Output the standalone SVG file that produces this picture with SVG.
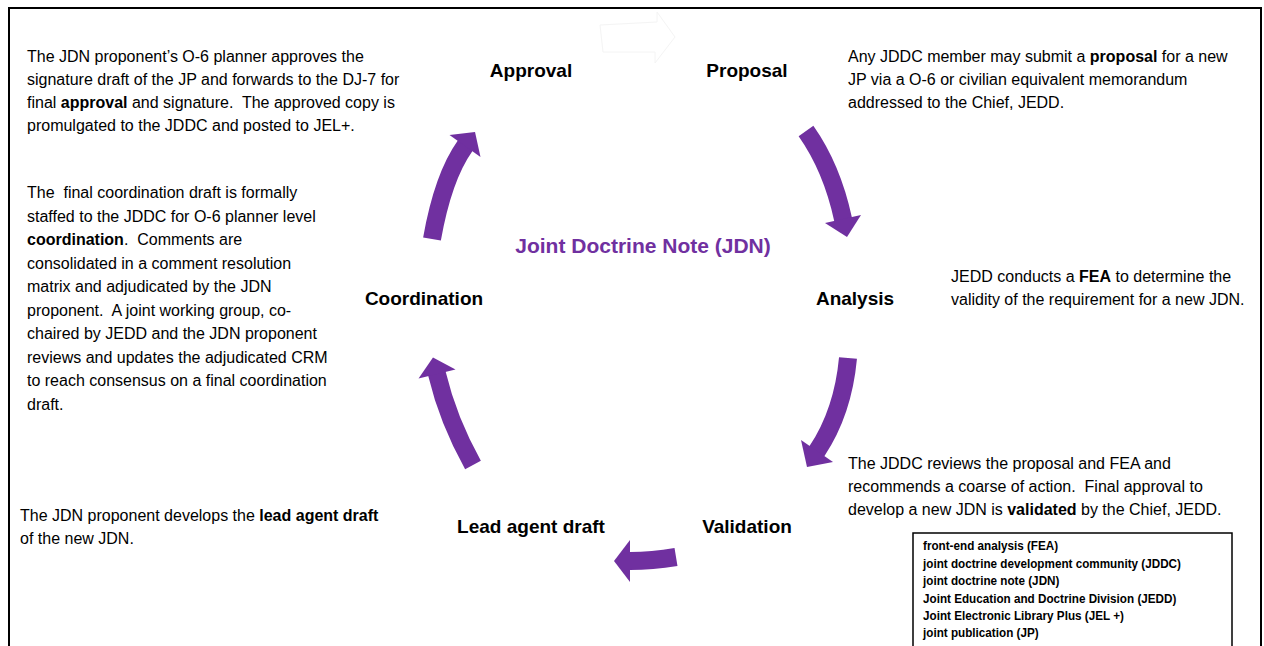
<svg xmlns="http://www.w3.org/2000/svg" width="1264" height="646" viewBox="0 0 1264 646">
  <style>
    .body { font-family: "Liberation Sans", Arial, sans-serif; font-size: 16px; fill: #000; }
    .lbl { font-family: "Liberation Sans", Arial, sans-serif; font-size: 19px; font-weight: bold; fill: #000; text-anchor: middle; }
    .ttl { font-family: "Liberation Sans", Arial, sans-serif; font-size: 21px; font-weight: bold; fill: #7030A0; text-anchor: middle; }
    .leg { font-family: "Liberation Sans", Arial, sans-serif; font-size: 13px; font-weight: bold; fill: #000; }
    .b { font-weight: bold; }
    .shaft { fill: none; stroke: #7030A0; stroke-width: 18; }
    .head { fill: #7030A0; }
  </style>

  <rect x="0" y="0" width="1264" height="646" fill="#fff"/>
  <!-- outer frame -->
  <path d="M9,646 V8 H1261 V646" fill="none" stroke="#000" stroke-width="2"/>

  <!-- faint outlined arrow at top -->
  <path d="M600,25 L657,22 L657,12 L675,37 L655,63 L655,52 L603,52 Z" fill="none" stroke="#f4f4f4" stroke-width="1"/>

  <!-- cycle connectors: shaft stroke + head triangle -->
  <g id="connectors">
    <g id="arrow-proposal-analysis">
      <path class="shaft" d="M806,131 Q832,168 843,219 l0.4,2"/>
      <polygon class="head" points="861,215 825,223 847,237"/>
    </g>
    <g id="arrow-analysis-validation">
      <path class="shaft" d="M848,358 Q843,412 817,451 l-1.1,1.7"/>
      <polygon class="head" points="833,462 801,440 807,467"/>
    </g>
    <g id="arrow-validation-lead">
      <path class="shaft" d="M676,557 Q652,561 630,561 l-2,0"/>
      <polygon class="head" points="630,540 630,582 614,561"/>
    </g>
    <g id="arrow-lead-coordination">
      <path class="shaft" d="M473,465 Q448,420 437,374 l-0.5,-2"/>
      <polygon class="head" points="455.5,369.6 418.5,378.4 433,357.5"/>
    </g>
    <g id="arrow-coordination-approval">
      <path class="shaft" d="M432,239 Q443,177 465,146 l1.2,-1.6"/>
      <polygon class="head" points="480.5,157 449.5,135 475,132"/>
    </g>
  </g>

  <text id="title" class="ttl" x="643" y="253">Joint Doctrine Note (JDN)</text>

  <g id="approval">
    <text class="lbl" x="531" y="77">Approval</text>
    <text class="body">
      <tspan x="27" y="62">The JDN proponent’s O-6 planner approves the</tspan>
      <tspan x="27" y="85">signature draft of the JP and forwards to the DJ-7 for</tspan>
      <tspan x="27" y="108">final <tspan class="b">approval</tspan> and signature.&#160; The approved copy is</tspan>
      <tspan x="27" y="131">promulgated to the JDDC and posted to JEL+.</tspan>
    </text>
  </g>

  <g id="proposal">
    <text class="lbl" x="747" y="77">Proposal</text>
    <text class="body">
      <tspan x="848" y="62">Any JDDC member may submit a <tspan class="b">proposal</tspan> for a new</tspan>
      <tspan x="848" y="85">JP via a O-6 or civilian equivalent memorandum</tspan>
      <tspan x="848" y="108">addressed to the Chief, JEDD.</tspan>
    </text>
  </g>

  <g id="analysis">
    <text class="lbl" x="855" y="305">Analysis</text>
    <text class="body">
      <tspan x="951" y="282">JEDD conducts a <tspan class="b">FEA</tspan> to determine the</tspan>
      <tspan x="951" y="305">validity of the requirement for a new JDN.</tspan>
    </text>
  </g>

  <g id="validation">
    <text class="lbl" x="747" y="533">Validation</text>
    <text class="body">
      <tspan x="848" y="469">The JDDC reviews the proposal and FEA and</tspan>
      <tspan x="848" y="492">recommends a coarse of action.&#160; Final approval to</tspan>
      <tspan x="848" y="515">develop a new JDN is <tspan class="b">validated</tspan> by the Chief, JEDD.</tspan>
    </text>
  </g>

  <g id="lead-agent-draft">
    <text class="lbl" x="531" y="533">Lead agent draft</text>
    <text class="body">
      <tspan x="20" y="521">The JDN proponent develops the <tspan class="b">lead agent draft</tspan></tspan>
      <tspan x="20" y="544">of the new JDN.</tspan>
    </text>
  </g>

  <g id="coordination">
    <text class="lbl" x="424" y="305">Coordination</text>
    <text class="body">
      <tspan x="27" y="198">The &#160;final coordination draft is formally</tspan>
      <tspan x="27" y="221.5">staffed to the JDDC for O-6 planner level</tspan>
      <tspan x="27" y="245"><tspan class="b">coordination</tspan>.&#160; Comments are</tspan>
      <tspan x="27" y="268.5">consolidated in a comment resolution</tspan>
      <tspan x="27" y="292">matrix and adjudicated by the JDN</tspan>
      <tspan x="27" y="315.5">proponent.&#160; A joint working group, co-</tspan>
      <tspan x="27" y="339">chaired by JEDD and the JDN proponent</tspan>
      <tspan x="27" y="362.5">reviews and updates the adjudicated CRM</tspan>
      <tspan x="27" y="386">to reach consensus on a final coordination</tspan>
      <tspan x="27" y="409.5">draft.</tspan>
    </text>
  </g>

  <g id="legend">
    <rect x="913" y="533" width="319" height="120" fill="#fff" stroke="#000" stroke-width="1.5"/>
    <!-- condensed list of abbreviations -->
    <g transform="translate(923,0) scale(0.9,1)">
      <text class="leg">
        <tspan x="0" y="550">front-end analysis (FEA)</tspan>
        <tspan x="0" y="568">joint doctrine development community (JDDC)</tspan>
        <tspan x="0" y="585">joint doctrine note (JDN)</tspan>
        <tspan x="0" y="603">Joint Education and Doctrine Division (JEDD)</tspan>
        <tspan x="0" y="620">Joint Electronic Library Plus (JEL +)</tspan>
        <tspan x="0" y="637">joint publication (JP)</tspan>
      </text>
    </g>
  </g>
</svg>
